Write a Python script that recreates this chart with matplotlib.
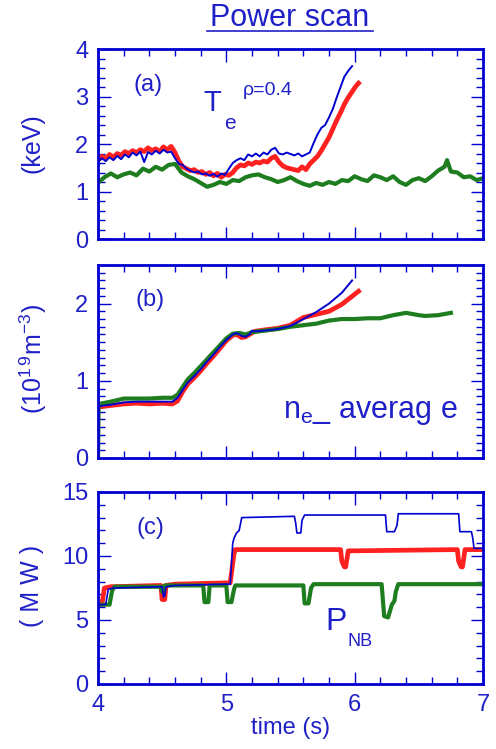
import matplotlib
matplotlib.use("Agg")
import matplotlib.pyplot as plt
from matplotlib.ticker import MultipleLocator
from matplotlib.lines import Line2D

plt.rcParams['font.family'] = ['Liberation Sans', 'DejaVu Sans']
plt.rcParams['mathtext.fontset'] = 'custom'
plt.rcParams['mathtext.rm'] = 'Liberation Sans'

# colours
BLUE_TXT = '#2020c8'
C_BLUE = '#0000d0'
C_RED = '#ff2020'
C_GREEN = '#1e7d1e'

# ---- (a) Te at rho=0.4 (keV) ----
ta_blue = [4.00, 4.03, 4.06, 4.09, 4.12, 4.15, 4.18, 4.21, 4.24, 4.27, 4.30, 4.33, 4.36, 4.39,
           4.42, 4.45, 4.48, 4.51, 4.54, 4.57, 4.60, 4.63, 4.66, 4.69, 4.72, 4.75, 4.78, 4.81,
           4.84, 4.87, 4.90, 4.93, 4.96, 4.99, 5.02, 5.05, 5.08, 5.11, 5.14, 5.17, 5.20, 5.23,
           5.26, 5.29, 5.32, 5.35, 5.38, 5.41, 5.44, 5.47, 5.50, 5.53, 5.56, 5.59, 5.62, 5.65,
           5.68, 5.71, 5.74, 5.77, 5.80, 5.83, 5.86, 5.89, 5.92, 5.95, 5.98]
te_blue = [1.62, 1.70, 1.64, 1.72, 1.66, 1.75, 1.68, 1.78, 1.72, 1.82, 1.76, 1.84, 1.62, 1.83,
           1.78, 1.86, 1.80, 1.88, 1.82, 1.84, 1.70, 1.58, 1.56, 1.48, 1.44, 1.40, 1.42, 1.36,
           1.38, 1.33, 1.37, 1.31, 1.38, 1.35, 1.48, 1.60, 1.66, 1.70, 1.66, 1.78, 1.74, 1.80,
           1.74, 1.82, 1.78, 1.88, 1.92, 1.80, 1.78, 1.82, 1.79, 1.76, 1.80, 1.74, 1.78, 1.82,
           2.02, 2.20, 2.34, 2.40, 2.56, 2.74, 2.98, 3.20, 3.42, 3.54, 3.64]

ta_red = [4.00, 4.03, 4.06, 4.09, 4.12, 4.15, 4.18, 4.21, 4.24, 4.27, 4.30, 4.33, 4.36, 4.39,
          4.42, 4.45, 4.48, 4.51, 4.54, 4.57, 4.60, 4.63, 4.66, 4.69, 4.72, 4.75, 4.78, 4.81,
          4.84, 4.87, 4.90, 4.93, 4.96, 4.99, 5.02, 5.05, 5.08, 5.11, 5.14, 5.17, 5.20, 5.23,
          5.26, 5.29, 5.32, 5.35, 5.38, 5.41, 5.44, 5.47, 5.50, 5.53, 5.56, 5.59, 5.62, 5.65,
          5.68, 5.71, 5.74, 5.77, 5.80, 5.83, 5.86, 5.89, 5.92, 5.95, 5.98, 6.01, 6.03]
te_red = [1.66, 1.74, 1.70, 1.78, 1.72, 1.80, 1.76, 1.84, 1.80, 1.86, 1.82, 1.88, 1.84, 1.92,
          1.86, 1.90, 1.84, 1.94, 1.88, 1.95, 1.82, 1.64, 1.52, 1.48, 1.44, 1.46, 1.40, 1.42,
          1.36, 1.40, 1.33, 1.38, 1.30, 1.36, 1.34, 1.40, 1.50, 1.56, 1.54, 1.60, 1.57, 1.62,
          1.60, 1.64, 1.62, 1.70, 1.74, 1.62, 1.54, 1.50, 1.48, 1.46, 1.44, 1.52, 1.46, 1.58,
          1.66, 1.74, 1.86, 2.00, 2.14, 2.32, 2.50, 2.66, 2.84, 2.98, 3.10, 3.22, 3.28]

ta_green = [4.00, 4.05, 4.10, 4.15, 4.20, 4.25, 4.30, 4.35, 4.40, 4.45, 4.50, 4.55, 4.60, 4.65,
            4.70, 4.75, 4.80, 4.85, 4.90, 4.95, 5.00, 5.05, 5.10, 5.15, 5.20, 5.25, 5.30, 5.35,
            5.40, 5.45, 5.50, 5.55, 5.60, 5.65, 5.70, 5.75, 5.80, 5.85, 5.90, 5.95, 6.00, 6.05,
            6.10, 6.15, 6.20, 6.25, 6.30, 6.35, 6.40, 6.45, 6.50, 6.55, 6.60, 6.65, 6.70, 6.72,
            6.75, 6.80, 6.85, 6.90, 6.95, 7.00]
te_green = [1.18, 1.30, 1.38, 1.30, 1.36, 1.40, 1.34, 1.48, 1.42, 1.52, 1.46, 1.56, 1.58, 1.40,
            1.32, 1.26, 1.18, 1.10, 1.14, 1.20, 1.16, 1.24, 1.22, 1.30, 1.34, 1.36, 1.30, 1.26,
            1.20, 1.24, 1.30, 1.22, 1.16, 1.12, 1.18, 1.14, 1.20, 1.16, 1.24, 1.22, 1.32, 1.26,
            1.22, 1.34, 1.30, 1.24, 1.32, 1.20, 1.14, 1.24, 1.28, 1.22, 1.32, 1.44, 1.52, 1.66,
            1.42, 1.40, 1.30, 1.32, 1.24, 1.28]

# ---- (b) line averaged density (1e19 m^-3) ----
tb_blue = [4.00, 4.10, 4.20, 4.30, 4.40, 4.50, 4.58, 4.62, 4.66, 4.70, 4.75, 4.80, 4.85, 4.90,
           4.95, 5.00, 5.05, 5.08, 5.12, 5.15, 5.18, 5.20, 5.22, 5.30, 5.40, 5.50, 5.60, 5.70,
           5.80, 5.90, 5.98]
ne_blue = [0.67, 0.69, 0.72, 0.73, 0.73, 0.73, 0.73, 0.78, 0.88, 0.98, 1.06, 1.15, 1.25, 1.34,
           1.44, 1.53, 1.60, 1.62, 1.58, 1.57, 1.60, 1.65, 1.64, 1.65, 1.67, 1.71, 1.80, 1.89,
           2.00, 2.14, 2.30]

tb_red = [4.00, 4.10, 4.20, 4.30, 4.40, 4.50, 4.58, 4.62, 4.66, 4.70, 4.75, 4.80, 4.85, 4.90,
          4.95, 5.00, 5.05, 5.08, 5.12, 5.15, 5.18, 5.22, 5.30, 5.40, 5.50, 5.60, 5.70, 5.80,
          5.90, 6.03]
ne_red = [0.66, 0.68, 0.70, 0.71, 0.70, 0.71, 0.70, 0.74, 0.86, 0.96, 1.04, 1.13, 1.23, 1.32,
          1.42, 1.52, 1.59, 1.60, 1.56, 1.57, 1.60, 1.64, 1.66, 1.68, 1.72, 1.82, 1.86, 1.90,
          1.99, 2.16]

tb_green = [4.00, 4.005, 4.10, 4.20, 4.30, 4.40, 4.50, 4.58, 4.62, 4.66, 4.70, 4.75, 4.80, 4.85,
            4.90, 4.95, 5.00, 5.05, 5.10, 5.15, 5.20, 5.30, 5.40, 5.50, 5.60, 5.70, 5.80, 5.90,
            6.00, 6.10, 6.20, 6.30, 6.40, 6.50, 6.55, 6.65, 6.75]
ne_green = [0.00, 0.70, 0.73, 0.77, 0.77, 0.77, 0.78, 0.78, 0.82, 0.92, 1.02, 1.10, 1.19, 1.28,
            1.37, 1.46, 1.55, 1.61, 1.62, 1.60, 1.63, 1.65, 1.67, 1.70, 1.72, 1.74, 1.78, 1.80,
            1.80, 1.81, 1.81, 1.85, 1.88, 1.85, 1.84, 1.85, 1.88]

# ---- (c) NB power (MW) ----
tc_blue = [4.00, 4.06, 4.08, 4.12, 4.50, 4.51, 4.52, 4.53, 4.60, 5.00, 5.03, 5.05, 5.06, 5.08,
           5.10, 5.12, 5.53, 5.54, 5.55, 5.58, 5.59, 5.61, 6.24, 6.25, 6.31, 6.33, 6.34, 6.81,
           6.82, 6.91, 6.92, 6.93, 7.00]
pnb_blue = [6.2, 6.2, 7.4, 7.5, 7.6, 6.8, 6.9, 7.6, 7.7, 7.8, 7.8, 11.0, 11.4, 11.8, 12.0, 13.0,
            13.1, 12.6, 11.8, 11.8, 12.8, 13.2, 13.2, 11.9, 11.9, 12.4, 13.3, 13.3, 11.9, 11.9,
            11.4, 10.6, 10.6]

tc_red = [4.00, 4.03, 4.05, 4.10, 4.49, 4.50, 4.52, 4.53, 4.60, 5.00, 5.03, 5.06, 5.07, 5.89,
          5.90, 5.92, 5.93, 5.95, 6.80, 6.81, 6.83, 6.84, 6.86, 7.00]
pnb_red = [6.2, 6.2, 7.5, 7.6, 7.7, 6.6, 6.6, 7.7, 7.8, 7.9, 7.9, 10.2, 10.5, 10.5, 9.6, 9.15,
           9.15, 10.4, 10.5, 9.6, 9.15, 9.15, 10.5, 10.5]

tc_green = [4.00, 4.09, 4.11, 4.13, 4.49, 4.50, 4.52, 4.82, 4.83, 4.86, 4.87, 5.00, 5.01, 5.04,
            5.06, 5.07, 5.60, 5.61, 5.64, 5.66, 5.68, 6.21, 6.23, 6.26, 6.29, 6.31, 6.32, 6.34,
            7.00]
pnb_green = [6.2, 6.2, 7.3, 7.6, 7.6, 7.2, 7.7, 7.7, 6.4, 6.4, 7.7, 7.7, 6.4, 6.4, 7.4, 7.7,
             7.7, 6.3, 6.3, 7.5, 7.8, 7.8, 5.3, 5.2, 6.2, 6.5, 7.2, 7.8, 7.8]

fig = plt.figure(figsize=(4.96, 7.49), dpi=100)

W, H = 496.0, 749.0
def rect(x0, y0, x1, y1):
    return [x0 / W, 1 - y1 / H, (x1 - x0) / W, (y1 - y0) / H]

ax_a = fig.add_axes(rect(98, 49, 483, 239))
ax_b = fig.add_axes(rect(98, 265, 483, 458))
ax_c = fig.add_axes(rect(98, 492, 483, 684))

def style(ax, ymax, ymaj, ymin_step, show_x):
    ax.set_xlim(4, 7)
    ax.set_ylim(0, ymax)
    ax.xaxis.set_major_locator(MultipleLocator(1))
    ax.xaxis.set_minor_locator(MultipleLocator(0.2))
    ax.yaxis.set_major_locator(MultipleLocator(ymaj))
    ax.yaxis.set_minor_locator(MultipleLocator(ymin_step))
    for s in ax.spines.values():
        s.set_color(C_BLUE)
        s.set_linewidth(2.0)
    ax.tick_params(which='both', direction='in', top=True, right=True,
                   colors=C_BLUE, labelcolor=BLUE_TXT, labelsize=17)
    ax.tick_params(which='major', length=9, width=1.0, pad=7)
    ax.tick_params(which='minor', length=5, width=1.0)
    if not show_x:
        ax.tick_params(labelbottom=False)

style(ax_a, 4, 1, 0.2, False)
style(ax_b, 2.5, 1, 0.1, False)
style(ax_c, 15, 5, 1, True)

ax_a.plot(ta_red, te_red, color=C_RED, lw=3.4)
ax_a.plot(ta_green, te_green, color=C_GREEN, lw=3.0)
ax_a.plot(ta_blue, te_blue, color=C_BLUE, lw=1.4)

ax_b.plot(tb_red, ne_red, color=C_RED, lw=3.4)
ax_b.plot(tb_green, ne_green, color=C_GREEN, lw=3.0)
ax_b.plot(tb_blue, ne_blue, color=C_BLUE, lw=1.4)

ax_c.plot(tc_red, pnb_red, color=C_RED, lw=3.4)
ax_c.plot(tc_green, pnb_green, color=C_GREEN, lw=3.0)
ax_c.plot(tc_blue, pnb_blue, color=C_BLUE, lw=1.2)

# panel annotations
ax_a.text(0.13, 0.81, '(a)', transform=ax_a.transAxes, fontsize=17, color=BLUE_TXT,
          ha='center', va='center')
ax_a.text(0.296, 0.716, 'T', transform=ax_a.transAxes, fontsize=21, color=BLUE_TXT,
          ha='center', va='center')
ax_a.text(0.343, 0.61, 'e', transform=ax_a.transAxes, fontsize=15, color=BLUE_TXT,
          ha='center', va='center')
ax_a.text(0.44, 0.78, '\u03c1=0.4', transform=ax_a.transAxes, fontsize=14, color=BLUE_TXT,
          ha='center', va='center')

ax_b.text(0.135, 0.82, '(b)', transform=ax_b.transAxes, fontsize=17, color=BLUE_TXT,
          ha='center', va='center')
ax_b.text(0.481, 0.207, r'n$_{\mathregular{e}}$_ averag e', transform=ax_b.transAxes,
          fontsize=22, color=BLUE_TXT, ha='left', va='baseline')

ax_c.text(0.135, 0.81, '(c)', transform=ax_c.transAxes, fontsize=17, color=BLUE_TXT,
          ha='center', va='center')
ax_c.text(0.59, 0.28, 'P', transform=ax_c.transAxes, fontsize=23, color=BLUE_TXT,
          ha='left', va='baseline')
ax_c.text(0.647, 0.198, 'NB', transform=ax_c.transAxes, fontsize=13, color=BLUE_TXT,
          ha='left', va='baseline')

# axis labels
fig.text(32 / W, 1 - 143 / H, '(keV)', rotation=90, fontsize=18, color=BLUE_TXT,
         ha='center', va='center')
fig.text(33 / W, 1 - 359 / H, r'(10$^{\mathregular{1\,9}}$m$^{\mathregular{-3}}$)',
         rotation=90, fontsize=18, color=BLUE_TXT, ha='center', va='center')
fig.text(32 / W, 1 - 586 / H, '( M W )', rotation=90, fontsize=18, color=BLUE_TXT,
         ha='center', va='center')
ax_c.set_xlabel('time (s)', fontsize=17, color=BLUE_TXT, labelpad=1)

# title with underline
fig.text(290 / W, 1 - 18 / H, 'Power scan', fontsize=22, color=BLUE_TXT,
         ha='center', va='center')
fig.add_artist(Line2D([207 / W, 373 / W], [1 - 31 / H, 1 - 31 / H], color=BLUE_TXT, lw=1.2,
                      transform=fig.transFigure))

fig.savefig('out.png', dpi=100)
